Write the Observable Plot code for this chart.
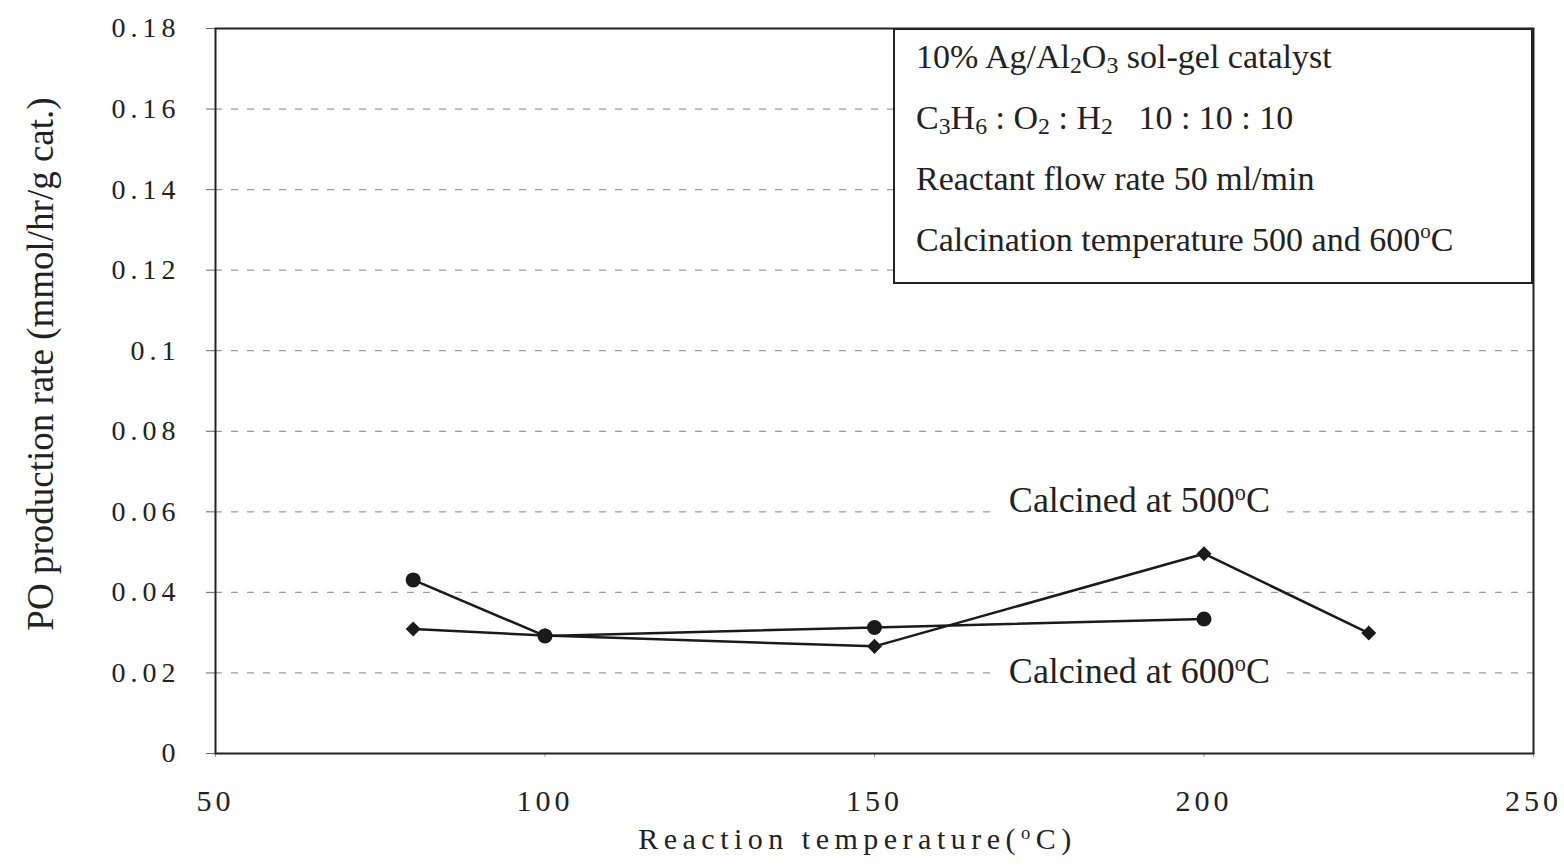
<!DOCTYPE html>
<html>
<head>
<meta charset="utf-8">
<script src="https://cdn.jsdelivr.net/npm/d3@7"></script>
<script src="https://cdn.jsdelivr.net/npm/@observablehq/plot@0.6"></script>
<style>
  html, body { margin: 0; padding: 0; background: #fff; }
  #wrap { position: relative; width: 1564px; height: 868px; font-family: "Liberation Serif", "Times New Roman", serif; }
  #legend { position: absolute; left: 893px; top: 28px; width: 640px; height: 256px; box-sizing: border-box;
            border: 2px solid #222; background: #fff; font-size: 34px; color: #222; padding-left: 21px; padding-top: 0; }
  #legend div { height: 61px; line-height: 61px; white-space: pre; position: relative; top: -4px; }
  #legend sub { font-size: 70%; vertical-align: -0.22em; line-height: 0; }
  #legend sup { font-size: 62%; vertical-align: 0.6em; line-height: 0; }
</style>
</head>
<body>
<div id="wrap"></div>
<script>
// Data
const temps500 = [80, 100, 150, 200, 225];
const rate500 = [0.0309, 0.0293, 0.0266, 0.0496, 0.0299];
const temps600 = [80, 100, 150, 200];
const rate600 = [0.0431, 0.0292, 0.0313, 0.0334];

const xTicks = [50, 100, 150, 200, 250];
const yTicks = [0, 0.02, 0.04, 0.06, 0.08, 0.1, 0.12, 0.14, 0.16, 0.18];
const gridTicks = [0.02, 0.04, 0.06, 0.08, 0.1, 0.12, 0.14, 0.16];

const seriesLabels = ["Calcined at 500°C", "Calcined at 600°C"];
const labelX = [190.2, 190.2];
const labelY = [0.0627, 0.0204];

const xTitle = "Reaction temperature(°C)";
const yTitle = "PO production rate (mmol/hr/g cat.)";

const legendLines = [
  "10% Ag/Al<sub>2</sub>O<sub>3</sub> sol-gel catalyst",
  "C<sub>3</sub>H<sub>6</sub> : O<sub>2</sub> : H<sub>2</sub>   10 : 10 : 10",
  "Reactant flow rate 50 ml/min",
  "Calcination temperature 500 and 600<sup>o</sup>C"
];

const d500 = temps500.map((t, i) => ({temp: t, rate: rate500[i]}));
const d600 = temps600.map((t, i) => ({temp: t, rate: rate600[i]}));
const labels = seriesLabels.map((s, i) => ({text: s, temp: labelX[i], rate: labelY[i]}));

const chart = Plot.plot({
  width: 1564,
  height: 868,
  marginLeft: 215,
  marginRight: 31,
  marginTop: 28,
  marginBottom: 115,
  style: {fontFamily: "'Liberation Serif', 'Times New Roman', serif", color: "#222", background: "#fff"},
  x: {domain: [50, 250]},
  y: {domain: [0, 0.18]},
  marks: [
    Plot.gridY(gridTicks, {stroke: "#9a9a9a", strokeOpacity: 1, strokeWidth: 1.2, strokeDasharray: "7,9"}),
    Plot.axisY({ticks: yTicks, tickSize: 9, tickPadding: 26, fontSize: 28,
      tickFormat: d => String(+d.toFixed(2)), label: null}),
    Plot.axisX({ticks: xTicks, tickSize: 4, tickPadding: 32, fontSize: 30, label: null}),
    Plot.text([yTitle], {text: d => d, frameAnchor: "left", textAnchor: "middle", lineAnchor: "middle",
      rotate: -90, dx: -174, dy: -27, fontSize: 37, fill: "#222"}),
    Plot.text([xTitle], {text: d => d, frameAnchor: "bottom", lineAnchor: "middle", dx: -17, dy: 86,
      fontSize: 30, fill: "#222"}),
    // white background behind the series labels (breaks the gridlines as in the reference)
    Plot.text(labels, {x: "temp", y: "rate", text: "text", fontSize: 36, fill: "white",
      stroke: "white", strokeWidth: 36, strokeLinejoin: "round"}),
    Plot.text(labels, {x: "temp", y: "rate", text: "text", fontSize: 36, fill: "#222"}),
    Plot.line(d500, {x: "temp", y: "rate", stroke: "#1a1a1a", strokeWidth: 2.5}),
    Plot.line(d600, {x: "temp", y: "rate", stroke: "#1a1a1a", strokeWidth: 2.5}),
    Plot.dot(d600, {x: "temp", y: "rate", r: 7.5, fill: "#1a1a1a", stroke: "none"}),
    Plot.dot(d500, {x: "temp", y: "rate", symbol: "square", rotate: 45, r: 6, fill: "#1a1a1a", stroke: "none"}),
    Plot.frame({stroke: "#222", strokeWidth: 2})
  ]
});

const svg = d3.select(chart);
svg.selectAll('[aria-label="y-axis tick label"]').style("letter-spacing", "5px");
svg.selectAll('[aria-label="x-axis tick label"]').style("letter-spacing", "4px");
svg.selectAll('[aria-label="y-axis tick"]').attr("stroke", "#666");
svg.selectAll('[aria-label="x-axis tick"]').attr("stroke", "#999");

// superscript "o" for degree signs, as in the reference
svg.selectAll("text").each(function() {
  const t = this.textContent;
  if (t.includes("°C") && this.childElementCount === 0) {
    const el = d3.select(this);
    const parts = t.split("°");
    el.text(null);
    el.append("tspan").text(parts[0]);
    el.append("tspan").attr("font-size", "62%").attr("dy", "-0.55em").text("o");
    el.append("tspan").attr("dy", "0.34em").text(parts[1]);
    if (t === xTitle) el.style("letter-spacing", "5.5px");
  }
});

const wrap = document.getElementById("wrap");
wrap.appendChild(chart);
const legend = document.createElement("div");
legend.id = "legend";
legend.innerHTML = legendLines.map(l => `<div>${l}</div>`).join("");
wrap.appendChild(legend);
</script>
</body>
</html>
